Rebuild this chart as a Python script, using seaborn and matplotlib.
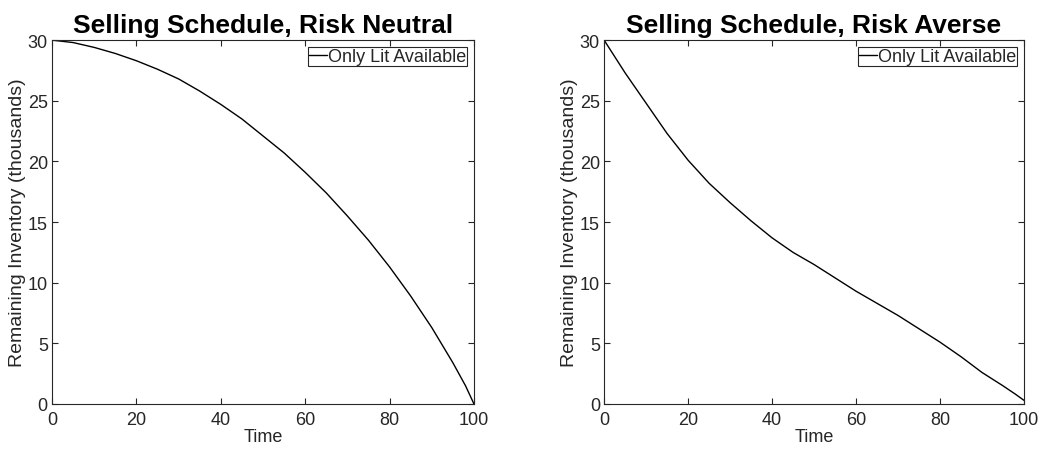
import matplotlib
matplotlib.use('Agg')
import matplotlib.pyplot as plt
import seaborn as sns
import pandas as pd

sns.set_style('ticks')
plt.rcParams['font.family'] = ['Liberation Sans', 'DejaVu Sans']

# risk neutral schedule
t_neutral = [0, 5, 10, 15, 20, 25, 30, 35, 40, 45, 50, 55, 60, 65, 70, 75, 80, 85, 90, 95, 98, 100]
inv_neutral = [30.0, 29.8, 29.4, 28.9, 28.3, 27.6, 26.8, 25.8, 24.7, 23.5, 22.1, 20.7, 19.1,
               17.4, 15.5, 13.5, 11.3, 8.9, 6.3, 3.4, 1.5, 0.0]

# risk averse schedule
t_averse = [0, 5, 10, 15, 20, 25, 30, 35, 40, 45, 50, 55, 60, 65, 70, 75, 80, 85, 90, 95, 98, 100]
inv_averse = [30.0, 27.3, 24.8, 22.3, 20.1, 18.2, 16.6, 15.1, 13.7, 12.5, 11.5, 10.4, 9.3, 8.3,
              7.3, 6.2, 5.1, 3.9, 2.6, 1.5, 0.8, 0.3]

label = 'Only Lit Available'
grey = '#262626'

fig = plt.figure(figsize=(10.47, 4.52), dpi=100)
ax1 = fig.add_axes([0.0497, 0.104, 0.403, 0.805])
ax2 = fig.add_axes([0.577, 0.104, 0.401, 0.805])

panels = [
    (ax1, t_neutral, inv_neutral, 'Selling Schedule, Risk Neutral'),
    (ax2, t_averse, inv_averse, 'Selling Schedule, Risk Averse'),
]

for ax, t, inv, title in panels:
    df = pd.DataFrame({'Time': t, 'Inventory': inv})
    sns.lineplot(data=df, x='Time', y='Inventory', ax=ax, color='black', lw=1.0, label=label)
    ax.set_xlim(0, 100)
    ax.set_ylim(0, 30)
    ax.set_xticks([0, 20, 40, 60, 80, 100])
    ax.set_yticks([0, 5, 10, 15, 20, 25, 30])
    ax.tick_params(direction='in', top=True, right=True, labelsize=13, colors=grey, length=4, width=0.8)
    ax.tick_params(axis='x', pad=5)
    ax.tick_params(axis='y', pad=3)
    for s in ax.spines.values():
        s.set_visible(True)
        s.set_color(grey)
        s.set_linewidth(0.8)
    ax.set_xlabel('Time', fontsize=13, color=grey, labelpad=0)
    ax.set_ylabel('Remaining Inventory (thousands)', fontsize=14, color=grey, labelpad=1)
    ax.set_title(title, fontsize=19, fontweight='bold', color='black', pad=6)
    leg = ax.legend(loc='upper right', fontsize=13, handlelength=1.0, handletextpad=0.05,
                    borderpad=0.05, borderaxespad=0.4, fancybox=False, framealpha=1)
    leg.get_frame().set_edgecolor(grey)
    leg.get_frame().set_linewidth(0.8)

fig.savefig('out.png', dpi=100)
